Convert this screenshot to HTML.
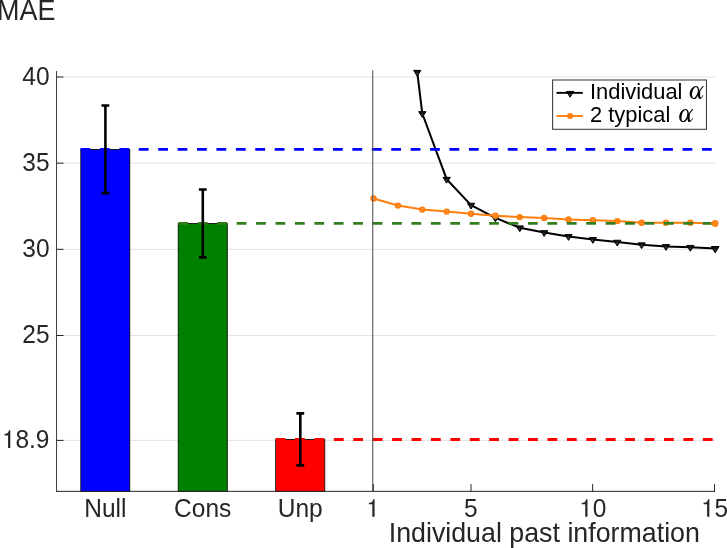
<!DOCTYPE html><html><head><meta charset="utf-8"><title>chart</title><style>html,body{margin:0;padding:0;background:#fff}
body{width:727px;height:548px;overflow:hidden}
svg{display:block;position:absolute;left:0;top:0;will-change:transform}
text{font-family:"Liberation Sans",sans-serif}
</style></head><body>
<svg width="727" height="548" viewBox="0 0 727 548">
<line x1="56.6" x2="715" y1="77.00" y2="77.00" stroke="#e4e4e4" stroke-width="1"/>
<line x1="56.6" x2="715" y1="163.17" y2="163.17" stroke="#e4e4e4" stroke-width="1"/>
<line x1="56.6" x2="715" y1="249.33" y2="249.33" stroke="#e4e4e4" stroke-width="1"/>
<line x1="56.6" x2="715" y1="335.50" y2="335.50" stroke="#e4e4e4" stroke-width="1"/>
<line x1="56.6" x2="715" y1="440.40" y2="440.40" stroke="#e4e4e4" stroke-width="1"/>
<rect x="80.8" y="149.4" width="49.00" height="342.00" fill="#0000ff" stroke="#000" stroke-width="0.8"/>
<rect x="178.2" y="223.45" width="49.10" height="267.95" fill="#008000" stroke="#000" stroke-width="0.8"/>
<rect x="275.7" y="439.5" width="49.10" height="51.90" fill="#ff0000" stroke="#000" stroke-width="0.8"/>
<g>
<polyline fill="none" stroke="#000" stroke-width="2.05" stroke-linejoin="round" points="417.25,72.20 422.29,113.50 446.66,179.20 471.03,205.10 495.40,217.90 519.77,227.75 544.14,232.50 568.51,236.45 592.88,239.40 617.25,242.10 641.62,244.70 665.99,246.45 690.36,247.30 715.20,248.50"/>
<path d="M413.60 70.35L420.90 70.35L417.25 76.11Z" fill="#141414" stroke="#000" stroke-width="1.0" stroke-linejoin="miter"/><circle cx="417.10" cy="73.42" r="0.71" fill="#5a5a5a"/>
<path d="M418.64 111.65L425.94 111.65L422.29 117.41Z" fill="#141414" stroke="#000" stroke-width="1.0" stroke-linejoin="miter"/><circle cx="422.14" cy="114.72" r="0.71" fill="#5a5a5a"/>
<path d="M443.01 177.35L450.31 177.35L446.66 183.11Z" fill="#141414" stroke="#000" stroke-width="1.0" stroke-linejoin="miter"/><circle cx="446.51" cy="180.42" r="0.71" fill="#5a5a5a"/>
<path d="M467.38 203.25L474.68 203.25L471.03 209.01Z" fill="#141414" stroke="#000" stroke-width="1.0" stroke-linejoin="miter"/><circle cx="470.88" cy="206.32" r="0.71" fill="#5a5a5a"/>
<path d="M491.75 216.05L499.05 216.05L495.40 221.81Z" fill="#141414" stroke="#000" stroke-width="1.0" stroke-linejoin="miter"/><circle cx="495.25" cy="219.12" r="0.71" fill="#5a5a5a"/>
<path d="M516.12 225.90L523.42 225.90L519.77 231.66Z" fill="#141414" stroke="#000" stroke-width="1.0" stroke-linejoin="miter"/><circle cx="519.62" cy="228.97" r="0.71" fill="#5a5a5a"/>
<path d="M540.49 230.65L547.79 230.65L544.14 236.41Z" fill="#141414" stroke="#000" stroke-width="1.0" stroke-linejoin="miter"/><circle cx="543.99" cy="233.72" r="0.71" fill="#5a5a5a"/>
<path d="M564.86 234.60L572.16 234.60L568.51 240.36Z" fill="#141414" stroke="#000" stroke-width="1.0" stroke-linejoin="miter"/><circle cx="568.36" cy="237.67" r="0.71" fill="#5a5a5a"/>
<path d="M589.23 237.55L596.53 237.55L592.88 243.31Z" fill="#141414" stroke="#000" stroke-width="1.0" stroke-linejoin="miter"/><circle cx="592.73" cy="240.62" r="0.71" fill="#5a5a5a"/>
<path d="M613.60 240.25L620.90 240.25L617.25 246.01Z" fill="#141414" stroke="#000" stroke-width="1.0" stroke-linejoin="miter"/><circle cx="617.10" cy="243.32" r="0.71" fill="#5a5a5a"/>
<path d="M637.97 242.85L645.27 242.85L641.62 248.61Z" fill="#141414" stroke="#000" stroke-width="1.0" stroke-linejoin="miter"/><circle cx="641.47" cy="245.92" r="0.71" fill="#5a5a5a"/>
<path d="M662.34 244.60L669.64 244.60L665.99 250.36Z" fill="#141414" stroke="#000" stroke-width="1.0" stroke-linejoin="miter"/><circle cx="665.84" cy="247.67" r="0.71" fill="#5a5a5a"/>
<path d="M686.71 245.45L694.01 245.45L690.36 251.21Z" fill="#141414" stroke="#000" stroke-width="1.0" stroke-linejoin="miter"/><circle cx="690.21" cy="248.52" r="0.71" fill="#5a5a5a"/>
<path d="M711.55 246.65L718.85 246.65L715.20 252.41Z" fill="#141414" stroke="#000" stroke-width="1.0" stroke-linejoin="miter"/><circle cx="715.05" cy="249.72" r="0.71" fill="#5a5a5a"/>
</g>
<circle cx="373.55" cy="198.45" r="2.2" fill="#ffdcb8" stroke="#ff7f0e" stroke-width="2.0"/>
<circle cx="397.92" cy="205.60" r="2.2" fill="#ffdcb8" stroke="#ff7f0e" stroke-width="2.0"/>
<circle cx="422.29" cy="209.60" r="2.2" fill="#ffdcb8" stroke="#ff7f0e" stroke-width="2.0"/>
<circle cx="446.66" cy="211.60" r="2.2" fill="#ffdcb8" stroke="#ff7f0e" stroke-width="2.0"/>
<circle cx="471.03" cy="213.80" r="2.2" fill="#ffdcb8" stroke="#ff7f0e" stroke-width="2.0"/>
<circle cx="495.40" cy="215.70" r="2.2" fill="#ffdcb8" stroke="#ff7f0e" stroke-width="2.0"/>
<circle cx="519.77" cy="217.10" r="2.2" fill="#ffdcb8" stroke="#ff7f0e" stroke-width="2.0"/>
<circle cx="544.14" cy="218.00" r="2.2" fill="#ffdcb8" stroke="#ff7f0e" stroke-width="2.0"/>
<circle cx="568.51" cy="219.40" r="2.2" fill="#ffdcb8" stroke="#ff7f0e" stroke-width="2.0"/>
<circle cx="592.88" cy="220.30" r="2.2" fill="#ffdcb8" stroke="#ff7f0e" stroke-width="2.0"/>
<circle cx="617.25" cy="221.10" r="2.2" fill="#ffdcb8" stroke="#ff7f0e" stroke-width="2.0"/>
<circle cx="641.62" cy="222.70" r="2.2" fill="#ffdcb8" stroke="#ff7f0e" stroke-width="2.0"/>
<circle cx="665.99" cy="222.80" r="2.2" fill="#ffdcb8" stroke="#ff7f0e" stroke-width="2.0"/>
<circle cx="690.36" cy="222.80" r="2.2" fill="#ffdcb8" stroke="#ff7f0e" stroke-width="2.0"/>
<circle cx="715.20" cy="223.50" r="2.2" fill="#ffdcb8" stroke="#ff7f0e" stroke-width="2.0"/>
<polyline fill="none" stroke="#ff7f0e" stroke-width="2.05" stroke-linejoin="round" points="373.55,198.45 397.92,205.60 422.29,209.60 446.66,211.60 471.03,213.80 495.40,215.70 519.77,217.10 544.14,218.00 568.51,219.40 592.88,220.30 617.25,221.10 641.62,222.70 665.99,222.80 690.36,222.80 715.20,223.50"/>
<line x1="80.5" x2="715" y1="149.4" y2="149.4" stroke="#0000ff" stroke-width="2.8" stroke-dasharray="9.8 9.62"/>
<line x1="178.4" x2="715" y1="223.45" y2="223.45" stroke="#337f1f" stroke-width="2.8" stroke-dasharray="9.8 9.62"/>
<line x1="275.6" x2="715" y1="439.5" y2="439.5" stroke="#ff0000" stroke-width="2.8" stroke-dasharray="9.8 9.62"/>
<path d="M105.4 105.5V193.1M101.5 105.5h7.8M101.5 193.1h7.8" stroke="#000" stroke-width="2.6" fill="none"/>
<path d="M202.8 189.5V257.4M198.9 189.5h7.8M198.9 257.4h7.8" stroke="#000" stroke-width="2.6" fill="none"/>
<path d="M300.3 413.4V465.4M296.40000000000003 413.4h7.8M296.40000000000003 465.4h7.8" stroke="#000" stroke-width="2.6" fill="none"/>
<path d="M711.55 246.65L718.85 246.65L715.20 252.41Z" fill="#141414" stroke="#000" stroke-width="1.0" stroke-linejoin="miter"/><circle cx="715.05" cy="249.72" r="0.71" fill="#5a5a5a"/>
<circle cx="715.20" cy="223.50" r="2.2" fill="#ffdcb8" stroke="#ff7f0e" stroke-width="2.0"/>
<path d="M711.5 223.4L715.4 223.5" stroke="#ff7f0e" stroke-width="2.05" stroke-linecap="round"/>
<path d="M56.55 71V491.8" fill="none" stroke="#303030" stroke-width="0.95"/>
<path d="M56.1 491.35H715" fill="none" stroke="#262626" stroke-width="1.0"/>
<line x1="372.75" x2="372.75" y1="70.3" y2="491.4" stroke="#484848" stroke-width="1.0"/>
<line x1="56.6" x2="63.6" y1="77.00" y2="77.00" stroke="#262626" stroke-width="1"/>
<line x1="56.6" x2="63.6" y1="163.17" y2="163.17" stroke="#262626" stroke-width="1"/>
<line x1="56.6" x2="63.6" y1="249.33" y2="249.33" stroke="#262626" stroke-width="1"/>
<line x1="56.6" x2="63.6" y1="335.50" y2="335.50" stroke="#262626" stroke-width="1"/>
<line x1="56.6" x2="63.6" y1="440.40" y2="440.40" stroke="#262626" stroke-width="1"/>
<line x1="373.3" x2="373.3" y1="484.1" y2="491.4" stroke="#262626" stroke-width="1"/>
<line x1="471.0" x2="471.0" y1="484.1" y2="491.4" stroke="#262626" stroke-width="1"/>
<line x1="592.65" x2="592.65" y1="484.1" y2="491.4" stroke="#262626" stroke-width="1"/>
<line x1="714.5" x2="714.5" y1="484.1" y2="491.4" stroke="#262626" stroke-width="1"/>
<rect x="552.6" y="80.0" width="153.85" height="49.3" fill="#fff" stroke="#3a3a3a" stroke-width="1.05"/>
<path d="M566.45 91.45L573.75 91.45L570.10 97.21Z" fill="#141414" stroke="#000" stroke-width="1.0" stroke-linejoin="miter"/><circle cx="569.95" cy="94.52" r="0.71" fill="#5a5a5a"/>
<line x1="556.5" x2="582.8" y1="92.85" y2="92.85" stroke="#000" stroke-width="1.9"/>
<circle cx="570.10" cy="116.00" r="2.1" fill="#ffdcb8" stroke="#ff7f0e" stroke-width="1.9"/>
<line x1="556.5" x2="582.8" y1="116.0" y2="116.0" stroke="#ff7f0e" stroke-width="1.9"/>
<text transform="translate(-3.0,19.7) scale(1,1.08)" font-size="27" fill="#262626">MAE</text>
<text transform="translate(49.50,84.50) scale(1,1.02)" font-size="24.5" text-anchor="end" fill="#262626">40</text>
<text transform="translate(49.50,170.67) scale(1,1.02)" font-size="24.5" text-anchor="end" fill="#262626">35</text>
<text transform="translate(49.50,256.83) scale(1,1.02)" font-size="24.5" text-anchor="end" fill="#262626">30</text>
<text transform="translate(49.50,343.00) scale(1,1.02)" font-size="24.5" text-anchor="end" fill="#262626">25</text>
<path d="M255 0V-505H112V-568C186-570 234-587 257-620C271-638 282-668 291-709H346V0Z" fill="#262626" transform="translate(1.82,447.90) scale(0.02450,0.02474)"/><text transform="translate(15.44,447.90) scale(1,1.02)" font-size="24.5" fill="#262626">8.9</text>
<text transform="translate(105.30,516.80) scale(1,1.04)" font-size="24.5" text-anchor="middle" fill="#262626">Null</text>
<text transform="translate(202.70,516.80) scale(1,1.04)" font-size="24.5" text-anchor="middle" fill="#262626">Cons</text>
<text transform="translate(300.20,516.80) scale(1,1.04)" font-size="24.5" text-anchor="middle" fill="#262626">Unp</text>
<path d="M255 0V-505H112V-568C186-570 234-587 257-620C271-638 282-668 291-709H346V0Z" fill="#262626" transform="translate(366.09,516.80) scale(0.02450,0.02474)"/>
<text transform="translate(470.78,516.80) scale(1,1.02)" font-size="24.5" text-anchor="middle" fill="#262626">5</text>
<path d="M255 0V-505H112V-568C186-570 234-587 257-620C271-638 282-668 291-709H346V0Z" fill="#262626" transform="translate(579.01,516.80) scale(0.02450,0.02474)"/><text transform="translate(592.63,516.80) scale(1,1.02)" font-size="24.5" fill="#262626">0</text>
<path d="M255 0V-505H112V-568C186-570 234-587 257-620C271-638 282-668 291-709H346V0Z" fill="#262626" transform="translate(700.86,516.80) scale(0.02450,0.02474)"/><text transform="translate(714.48,516.80) scale(1,1.02)" font-size="24.5" fill="#262626">5</text>
<text transform="translate(544.30,542.00) scale(1,1.04)" font-size="26.8" text-anchor="middle" fill="#262626">Individual past information</text>
<text transform="translate(590.00,98.50) scale(1,1.04)" font-size="21.9" text-anchor="start" fill="#000">Individual</text>
<text transform="translate(590.00,121.80) scale(1,1.04)" font-size="21.9" text-anchor="start" fill="#000">2 typical</text>
<g transform="translate(684,82) scale(0.036496)"><path d="M522 118C480 165 440 225 408 290C385 340 350 410 295 448" fill="none" stroke="#000" stroke-width="28" stroke-linecap="round"/><path fill-rule="evenodd" d="M290 463C200 470 150 400 157 310C165 200 250 108 335 108C390 108 420 170 426 262L400 305C380 380 340 457 290 463ZM330 134C272 134 226 240 221 330C216 400 236 437 272 437C320 432 364 340 379 270C385 200 370 134 330 134Z"/><path d="M383 250L446 250C440 330 440 400 458 424C475 432 500 400 514 354L530 362C505 432 470 466 430 466C390 466 378 400 383 250Z"/></g>
<g transform="translate(673.5,105.1) scale(0.036496)"><path d="M522 118C480 165 440 225 408 290C385 340 350 410 295 448" fill="none" stroke="#000" stroke-width="28" stroke-linecap="round"/><path fill-rule="evenodd" d="M290 463C200 470 150 400 157 310C165 200 250 108 335 108C390 108 420 170 426 262L400 305C380 380 340 457 290 463ZM330 134C272 134 226 240 221 330C216 400 236 437 272 437C320 432 364 340 379 270C385 200 370 134 330 134Z"/><path d="M383 250L446 250C440 330 440 400 458 424C475 432 500 400 514 354L530 362C505 432 470 466 430 466C390 466 378 400 383 250Z"/></g>
</svg>
</body></html>
